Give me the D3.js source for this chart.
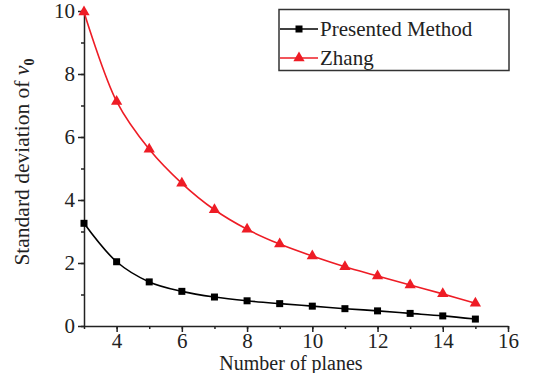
<!DOCTYPE html>
<html>
<head>
<meta charset="utf-8">
<script src="https://cdn.jsdelivr.net/npm/d3@7"></script>
<style>
body{margin:0;background:#fff;}
text{font-family:"Liberation Serif","Times New Roman",serif;fill:#222;}
</style>
</head>
<body>
<div id="chart"></div>
<script>
// number of planes
const planes = [3,4,5,6,7,8,9,10,11,12,13,14,15]
const presented = [3.26,2.04,1.40,1.10,0.92,0.80,0.71,0.63,0.55,0.48,0.40,0.32,0.22]
const zhang = [9.97,7.13,5.61,4.53,3.69,3.07,2.60,2.22,1.88,1.59,1.30,1.02,0.72]
const xTicks = [4,6,8,10,12,14,16]
const yTicks = [0,2,4,6,8,10]

const W = 533, H = 373
const margin = {top:11,left:84,right:25,bottom:47}
const serif = '"Liberation Serif","Times New Roman",serif'

const svg = d3.select("#chart").append("svg")
  .attr("width",W).attr("height",H)

const x = d3.scaleLinear().domain([3,16]).range([margin.left, W-margin.right])
const y = d3.scaleLinear().domain([0,10]).range([H-margin.bottom, margin.top])

// axes with minor ticks
const xMinor = d3.range(3,17)
const yMinor = d3.range(0,11)

const gx = svg.append("g").attr("transform",`translate(0,${H-margin.bottom})`)
gx.call(d3.axisBottom(x).tickValues(xMinor).tickSize(3).tickFormat(""))
gx.call(g=>g.select(".domain").remove())
svg.append("g").attr("transform",`translate(0,${H-margin.bottom})`)
  .call(d3.axisBottom(x).tickValues(xTicks).tickSize(6).tickSizeOuter(0).tickPadding(1))
  .call(g=>g.selectAll("text").style("font-family",serif).style("font-size","21px").attr("fill","#222"))

const gy = svg.append("g").attr("transform",`translate(${margin.left},0)`)
gy.call(d3.axisLeft(y).tickValues(yMinor).tickSize(3).tickFormat(""))
gy.call(g=>g.select(".domain").remove())
svg.append("g").attr("transform",`translate(${margin.left},0)`)
  .call(d3.axisLeft(y).tickValues(yTicks).tickSize(6).tickSizeOuter(0).tickPadding(3))
  .call(g=>g.selectAll("text").style("font-family",serif).style("font-size","21px").attr("fill","#222"))

svg.selectAll(".domain, .tick line").attr("stroke","#222").attr("stroke-width",1.5)

// lines
const line = d3.line().x((d,i)=>x(planes[i])).y(d=>y(d)).curve(d3.curveCatmullRom)

svg.append("path").datum(zhang).attr("d",line)
  .attr("fill","none").attr("stroke","#ee1c25").attr("stroke-width",1.6)
svg.append("path").datum(presented).attr("d",line)
  .attr("fill","none").attr("stroke","#000").attr("stroke-width",1.6)

const tri = d3.symbol().type(d3.symbolTriangle).size(55)
svg.selectAll(".zp").data(zhang).enter().append("path")
  .attr("transform",(d,i)=>`translate(${x(planes[i])},${y(d)})`)
  .attr("d",tri).attr("fill","#ee1c25")

svg.selectAll(".pp").data(presented).enter().append("rect")
  .attr("x",(d,i)=>x(planes[i])-3.5).attr("y",d=>y(d)-3.5)
  .attr("width",7).attr("height",7).attr("fill","#000")

// legend
const lg = svg.append("g")
lg.append("rect").attr("x",279).attr("y",9.5).attr("width",230).attr("height",61)
  .attr("fill","#fff").attr("stroke","#333").attr("stroke-width",1.5)
const legendItems = [{name:"Presented Method",color:"#000",sym:"square"},{name:"Zhang",color:"#ee1c25",sym:"tri"}]
legendItems.forEach((it,i)=>{
  const yy = 29+i*29
  lg.append("line").attr("x1",280).attr("x2",318).attr("y1",yy).attr("y2",yy)
    .attr("stroke",it.color).attr("stroke-width",1.6)
  if(it.sym=="square"){
    lg.append("rect").attr("x",295.5).attr("y",yy-3.5).attr("width",7).attr("height",7).attr("fill",it.color)
  } else {
    lg.append("path").attr("transform",`translate(299,${yy})`).attr("d",tri).attr("fill",it.color)
  }
  lg.append("text").attr("x",320).attr("y",yy+7).attr("font-size",21).text(it.name)
})

// axis titles
svg.append("text").attr("x",291).attr("y",370).attr("text-anchor","middle")
  .attr("font-size",20).text("Number of planes")

const yt = svg.append("text").attr("transform","translate(29,162) rotate(-90)")
  .attr("text-anchor","middle").attr("font-size",21.5)
yt.append("tspan").text("Standard deviation of  ")
yt.append("tspan").style("font-style","italic").attr("font-size",22).text("v")
yt.append("tspan").attr("font-size",14).attr("dy",5).attr("font-weight","bold").text("0")
</script>
</body>
</html>
